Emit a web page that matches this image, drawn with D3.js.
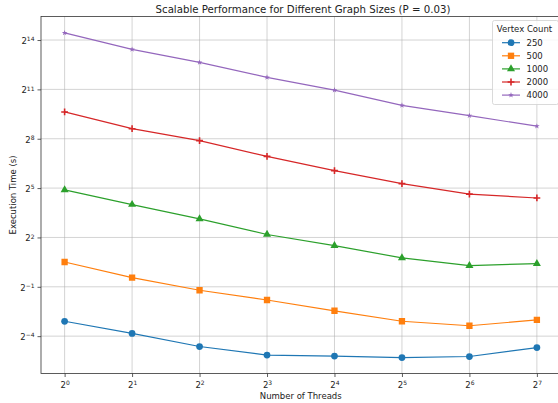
<!DOCTYPE html>
<html>
<head>
<meta charset="utf-8">
<script src="https://cdn.jsdelivr.net/npm/d3@7"></script>
<style>
  body { margin: 0; background: #fff; }
  svg { display: block; font-family: "DejaVu Sans", sans-serif; }
</style>
</head>
<body>
<div id="chart"></div>
<script>
//Datos
const threads = [1, 2, 4, 8, 16, 32, 64, 128];
const xTickExps = [0, 1, 2, 3, 4, 5, 6, 7];
const yTickExps = [-4, -1, 2, 5, 8, 11, 14];
const vertexCounts = ['250', '500', '1000', '2000', '4000'];
const time250 = [0.117, 0.070, 0.0404, 0.0282, 0.0270, 0.0254, 0.0265, 0.0387];
const time500 = [1.42, 0.737, 0.432, 0.287, 0.182, 0.117, 0.0968, 0.124];
const time1000 = [29.6, 16.0, 8.75, 4.53, 2.83, 1.69, 1.22, 1.33];
const time2000 = [792, 391, 236, 122, 66.7, 38.6, 24.8, 21.1];
const time4000 = [22070, 11030, 6380, 3400, 1990, 1045, 676, 434];

//Colores fijos
const COLORS = ['#1f77b4', '#ff7f0e', '#2ca02c', '#d62728', '#9467bd'];
const SYMBOLS = ['circle', 'square', 'triangle', 'plus', 'star'];

const series = [time250, time500, time1000, time2000, time4000].map(function(vals, i) {
    return { key: vertexCounts[i], color: COLORS[i], symbol: SYMBOLS[i], values: vals };
});

let W = 558, H = 403;
let margin = {top: 16.5, right: -2.5, bottom: 29.5, left: 41};
let width = W - margin.left - margin.right,
    height = H - margin.top - margin.bottom;

let svg = d3.select('#chart').append('svg')
    .attr('width', W).attr('height', H);

let defs = svg.append('defs');
defs.append('clipPath').attr('id', 'clip')
    .append('rect').attr('width', width).attr('height', height);

let chart = svg.append('g')
    .attr('transform', 'translate(' + margin.left + ',' + margin.top + ')');

//Eje X (log2 con margen del 5%)
let x = d3.scaleLog().base(2)
    .domain([Math.pow(2, -0.35), Math.pow(2, 7.35)])
    .range([0, width]);

//Eje Y
let y = d3.scaleLog().base(2)
    .domain([Math.pow(2, -6.27), Math.pow(2, 15.43)])
    .range([height, 0]);

//Rejilla
chart.append('g').selectAll('line')
    .data(xTickExps).enter().append('line')
    .attr('x1', function(d) { return x(Math.pow(2, d)); })
    .attr('x2', function(d) { return x(Math.pow(2, d)); })
    .attr('y1', 0).attr('y2', height)
    .attr('stroke', '#b0b0b0').attr('stroke-opacity', 0.7).attr('stroke-width', 0.8);

chart.append('g').selectAll('line')
    .data(yTickExps).enter().append('line')
    .attr('y1', function(d) { return y(Math.pow(2, d)); })
    .attr('y2', function(d) { return y(Math.pow(2, d)); })
    .attr('x1', 0).attr('x2', width)
    .attr('stroke', '#b0b0b0').attr('stroke-opacity', 0.7).attr('stroke-width', 0.8);

function powLabel(sel, exp) {
    sel.text('');
    sel.append('tspan').text('2');
    sel.append('tspan').attr('dy', '-0.45em').attr('font-size', '6px')
        .text(exp < 0 ? '\u2212' + Math.abs(exp) : exp);
}

let xAxis = chart.append('g')
    .attr('transform', 'translate(0,' + height + ')')
    .call(d3.axisBottom(x).tickValues(xTickExps.map(function(d) { return Math.pow(2, d); }))
        .tickSize(3.5).tickPadding(3).tickFormat(''));
xAxis.selectAll('.tick text').each(function(d) {
    d3.select(this).attr('font-size', '8.5px').attr('dy', '0.9em');
    powLabel(d3.select(this), Math.round(Math.log2(d)));
});

let yAxis = chart.append('g')
    .call(d3.axisLeft(y).tickValues(yTickExps.map(function(d) { return Math.pow(2, d); }))
        .tickSize(3.5).tickPadding(3).tickFormat(''));
yAxis.selectAll('.tick text').each(function(d) {
    d3.select(this).attr('font-size', '8.5px').attr('dy', '0.4em');
    powLabel(d3.select(this), Math.round(Math.log2(d)));
});

[xAxis, yAxis].forEach(function(a) {
    a.select('.domain').remove();
    a.selectAll('.tick line').attr('stroke', '#333').attr('stroke-width', 0.8);
    a.selectAll('.tick text').attr('fill', '#222').attr('font-family', '"DejaVu Sans", sans-serif');
});

//Marco
chart.append('rect')
    .attr('width', width).attr('height', height)
    .attr('fill', 'none').attr('stroke', '#333').attr('stroke-width', 0.8);

//Series
let line = d3.line()
    .x(function(d, i) { return x(threads[i]); })
    .y(function(d) { return y(d); });

let plot = chart.append('g').attr('clip-path', 'url(#clip)');

function symbolPath(name) {
    if (name === 'circle') return d3.symbol(d3.symbolCircle, 36)();
    if (name === 'square') return d3.symbol(d3.symbolSquare, 40)();
    if (name === 'triangle') return d3.symbol(d3.symbolTriangle, 28)();
    if (name === 'star') return d3.symbol(d3.symbolStar, 10)();
    return 'M-3.4,0H3.4M0,-3.4V3.4';
}

function drawMarker(g, s) {
    let p = g.append('path').attr('d', symbolPath(s.symbol));
    if (s.symbol === 'plus') {
        p.attr('fill', 'none').attr('stroke', s.color).attr('stroke-width', 1.6);
    } else {
        p.attr('fill', s.color);
    }
    return p;
}

series.forEach(function(s) {
    plot.append('path')
        .datum(s.values)
        .attr('d', line)
        .attr('fill', 'none')
        .attr('stroke', s.color)
        .attr('stroke-width', 1.2);

    s.values.forEach(function(v, i) {
        let g = plot.append('g')
            .attr('transform', 'translate(' + x(threads[i]) + ',' + y(v) + ')');
        drawMarker(g, s);
    });
});

//Leyenda
let legend = svg.append('g').attr('transform', 'translate(492.5,20.5)');
legend.append('rect')
    .attr('width', 66).attr('height', 84).attr('rx', 2)
    .attr('fill', '#fff').attr('fill-opacity', 0.8)
    .attr('stroke', '#d0d0d0').attr('stroke-width', 0.8);
legend.append('text')
    .attr('x', 32).attr('y', 11)
    .attr('text-anchor', 'middle').attr('font-size', '8.5px').attr('fill', '#222')
    .text('Vertex Count');
series.forEach(function(s, i) {
    let row = legend.append('g').attr('transform', 'translate(0,' + (22.2 + i * 13.1) + ')');
    row.append('line').attr('x1', 9.5).attr('x2', 27.5)
        .attr('stroke', s.color).attr('stroke-width', 1.2);
    drawMarker(row.append('g').attr('transform', 'translate(18.5,0)'), s);
    row.append('text').attr('x', 34).attr('dy', '0.35em')
        .attr('font-size', '8.5px').attr('fill', '#222').text(s.key);
});

//Títulos
svg.append('text')
    .attr('x', 303).attr('y', 12.5)
    .attr('text-anchor', 'middle').attr('font-size', '10.2px').attr('fill', '#222')
    .text('Scalable Performance for Different Graph Sizes (P = 0.03)');

svg.append('text')
    .attr('x', margin.left + x(Math.pow(2, 3.5))).attr('y', 399)
    .attr('text-anchor', 'middle').attr('font-size', '8.5px').attr('fill', '#222')
    .text('Number of Threads');

svg.append('text')
    .attr('transform', 'translate(15.5,' + (margin.top + height / 2) + ') rotate(-90)')
    .attr('text-anchor', 'middle').attr('font-size', '8.5px').attr('fill', '#222')
    .text('Execution Time (s)');
</script>
</body>
</html>
